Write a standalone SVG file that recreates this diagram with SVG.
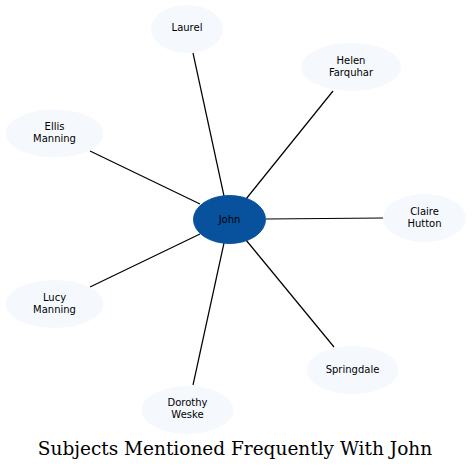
<svg xmlns="http://www.w3.org/2000/svg" width="472" height="470" viewBox="0 0 472 470">
<style>
.n{fill:#f5f9fe;stroke:none}
.c{fill:#08519c;stroke:#08519c}
.t{font-family:"DejaVu Sans",sans-serif;font-size:10px;fill:#000;text-anchor:middle}
.e{stroke:#000;stroke-width:1.2;fill:none}
.title{font-family:"DejaVu Serif",serif;font-size:18.5px;fill:#000;text-anchor:middle}
</style>
<rect width="472" height="470" fill="#fff"/>
<g id="edges">
<line class="e" x1="193" y1="53" x2="224" y2="196"/>
<line class="e" x1="333" y1="91" x2="246" y2="199"/>
<line class="e" x1="90" y1="151" x2="200" y2="204"/>
<line class="e" x1="383" y1="218" x2="266" y2="219"/>
<line class="e" x1="90" y1="287" x2="200" y2="234"/>
<line class="e" x1="334" y1="347" x2="246" y2="240"/>
<line class="e" x1="193" y1="385" x2="224" y2="243"/>
</g>
<g id="john"><ellipse class="c" cx="229.5" cy="219.5" rx="36" ry="24"/><text class="t" x="229.5" y="223">John</text></g>
<g id="laurel"><ellipse class="n" cx="187" cy="29" rx="36" ry="24"/><text class="t" x="187" y="31">Laurel</text></g>
<g id="helen"><ellipse class="n" cx="351" cy="67" rx="50" ry="24"/><text class="t" x="351" y="64">Helen</text><text class="t" x="351" y="76">Farquhar</text></g>
<g id="ellis"><ellipse class="n" cx="54.5" cy="133.5" rx="49" ry="24"/><text class="t" x="54.5" y="130">Ellis</text><text class="t" x="54.5" y="142">Manning</text></g>
<g id="claire"><ellipse class="n" cx="424.5" cy="218" rx="41.5" ry="24"/><text class="t" x="424.5" y="215">Claire</text><text class="t" x="424.5" y="227">Hutton</text></g>
<g id="lucy"><ellipse class="n" cx="54.5" cy="304" rx="49" ry="24"/><text class="t" x="54.5" y="301">Lucy</text><text class="t" x="54.5" y="313">Manning</text></g>
<g id="springdale"><ellipse class="n" cx="352.5" cy="370" rx="46" ry="24"/><text class="t" x="352.5" y="373">Springdale</text></g>
<g id="dorothy"><ellipse class="n" cx="187.5" cy="410" rx="46" ry="24"/><text class="t" x="187.5" y="406">Dorothy</text><text class="t" x="187.5" y="418">Weske</text></g>
<text class="title" x="235" y="455">Subjects Mentioned Frequently With John</text>
</svg>
